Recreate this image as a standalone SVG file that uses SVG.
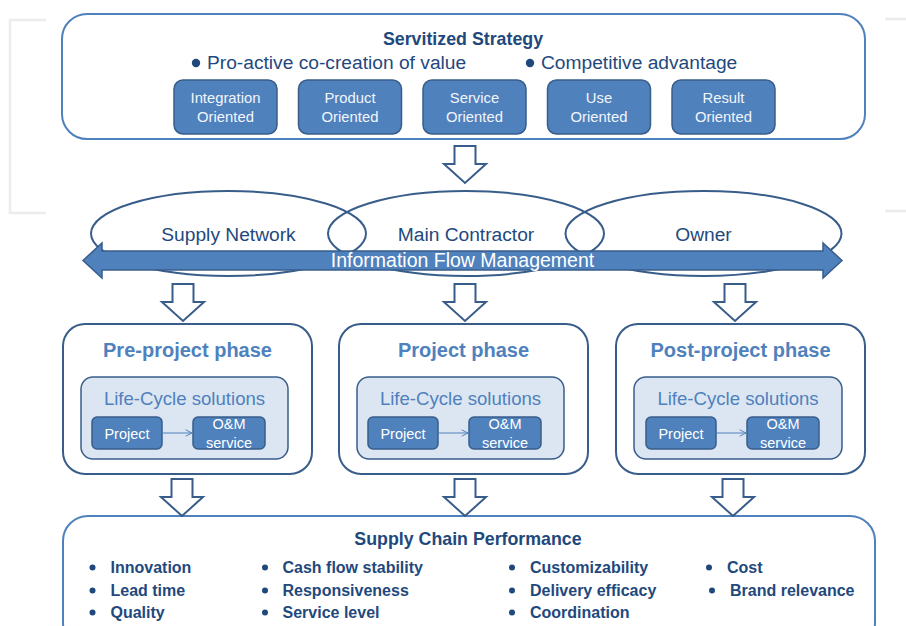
<svg xmlns="http://www.w3.org/2000/svg" width="906" height="626" viewBox="0 0 906 626">
<defs>
<style>
.bg{fill:#ffffff}
.gray{fill:none;stroke:#ececec;stroke-width:2.5}
.outer{fill:#ffffff;stroke:#4f81bd;stroke-width:2}
.phase{fill:#ffffff;stroke:#385d8a;stroke-width:2}
.inner{fill:#dce6f2;stroke:#385d8a;stroke-width:1.5}
.dark{fill:#4f81bd;stroke:#385d8a;stroke-width:1.5}
.ell{fill:none;stroke:#385d8a;stroke-width:2}
.blk{fill:#ffffff;stroke:#385d8a;stroke-width:2;stroke-linejoin:miter}
.band{fill:#4f81bd;stroke:#385d8a;stroke-width:1.5}
.thin{fill:none;stroke:#4f81bd;stroke-width:1}
.t{font-family:"Liberation Sans",Arial,sans-serif}
.title{font-weight:bold;font-size:17.8px;fill:#1f497d;text-anchor:middle}
.bul{font-size:19.2px;fill:#1f497d}
.btn{font-size:14.8px;fill:#f2f6fb;text-anchor:middle}
.ellt{font-size:19.2px;fill:#1f497d;text-anchor:middle}
.flow{font-size:19.5px;fill:#ffffff;text-anchor:middle}
.ph{font-weight:bold;font-size:20px;fill:#4f81bd;text-anchor:middle}
.lc{font-size:18.6px;fill:#4f81bd;text-anchor:middle}
.sm{font-size:14.5px;fill:#ffffff;text-anchor:middle}
.item{font-weight:bold;font-size:16px;fill:#1f497d}
.dot{fill:#1f497d}
</style>
<marker id="ah" viewBox="0 0 10 10" refX="9" refY="5" markerWidth="8" markerHeight="8" markerUnits="userSpaceOnUse" orient="auto">
<path d="M1,1 L9,5 L1,9" fill="none" stroke="#4f81bd" stroke-width="1.2"/>
</marker>
</defs>
<rect class="bg" x="0" y="0" width="906" height="626"/>
<g id="background-marks">
<path class="gray" d="M46,20 H10 V213 H46"/>
<path class="gray" d="M885,19 H906 M885,211 H906"/>
</g>

<g id="servitized-strategy">
<rect class="outer" x="62" y="14" width="803" height="125" rx="25"/>
<text class="t title" x="463" y="45">Servitized Strategy</text>
<circle class="dot" cx="196" cy="63" r="4.2"/>
<text class="t bul" x="207" y="69">Pro-active co-creation of value</text>
<circle class="dot" cx="530" cy="63" r="4.2"/>
<text class="t bul" x="541" y="69">Competitive advantage</text>
</g>
<g id="integration-oriented">
<rect class="dark" x="174" y="80" width="103" height="54" rx="9"/>
<text class="t btn" x="225.5" y="103">Integration</text>
<text class="t btn" x="225.5" y="122">Oriented</text>
</g>
<g id="product-oriented">
<rect class="dark" x="298.5" y="80" width="103" height="54" rx="9"/>
<text class="t btn" x="350" y="103">Product</text>
<text class="t btn" x="350" y="122">Oriented</text>
</g>
<g id="service-oriented">
<rect class="dark" x="423" y="80" width="103" height="54" rx="9"/>
<text class="t btn" x="474.5" y="103">Service</text>
<text class="t btn" x="474.5" y="122">Oriented</text>
</g>
<g id="use-oriented">
<rect class="dark" x="547.5" y="80" width="103" height="54" rx="9"/>
<text class="t btn" x="599" y="103">Use</text>
<text class="t btn" x="599" y="122">Oriented</text>
</g>
<g id="result-oriented">
<rect class="dark" x="672" y="80" width="103" height="54" rx="9"/>
<text class="t btn" x="723.5" y="103">Result</text>
<text class="t btn" x="723.5" y="122">Oriented</text>
</g>

<g id="supply-network">
<ellipse class="ell" cx="228.5" cy="233.5" rx="137.5" ry="42.5"/>
<text class="t ellt" x="228.5" y="241">Supply Network</text>
</g>
<g id="main-contractor">
<ellipse class="ell" cx="466" cy="233.5" rx="138" ry="42.5"/>
<text class="t ellt" x="466" y="241">Main Contractor</text>
</g>
<g id="owner">
<ellipse class="ell" cx="703.5" cy="233.5" rx="138" ry="42.5"/>
<text class="t ellt" x="703.5" y="241">Owner</text>
</g>

<g id="pre-project-phase">
<rect class="phase" x="63" y="324" width="249" height="150" rx="22"/>
<text class="t ph" x="187.5" y="357">Pre-project phase</text>
<rect class="inner" x="81" y="377" width="207" height="82" rx="12"/>
<text class="t lc" x="184.5" y="405">Life-Cycle solutions</text>
<rect class="dark" x="92" y="417" width="70" height="32" rx="5"/>
<text class="t sm" x="127" y="439">Project</text>
<rect class="dark" x="193" y="417" width="72" height="32" rx="5"/>
<text class="t sm" x="229" y="429">O&amp;M</text>
<text class="t sm" x="229" y="447.5">service</text>
</g>
<g id="project-phase">
<rect class="phase" x="339" y="324" width="249" height="150" rx="22"/>
<text class="t ph" x="463.5" y="357">Project phase</text>
<rect class="inner" x="357" y="377" width="207" height="82" rx="12"/>
<text class="t lc" x="460.5" y="405">Life-Cycle solutions</text>
<rect class="dark" x="368" y="417" width="70" height="32" rx="5"/>
<text class="t sm" x="403" y="439">Project</text>
<rect class="dark" x="469" y="417" width="72" height="32" rx="5"/>
<text class="t sm" x="505" y="429">O&amp;M</text>
<text class="t sm" x="505" y="447.5">service</text>
</g>
<g id="post-project-phase">
<rect class="phase" x="616" y="324" width="249" height="150" rx="22"/>
<text class="t ph" x="740.5" y="357">Post-project phase</text>
<rect class="inner" x="634" y="377" width="208" height="82" rx="12"/>
<text class="t lc" x="738" y="405">Life-Cycle solutions</text>
<rect class="dark" x="646" y="417" width="70" height="32" rx="5"/>
<text class="t sm" x="681" y="439">Project</text>
<rect class="dark" x="747" y="417" width="72" height="32" rx="5"/>
<text class="t sm" x="783" y="429">O&amp;M</text>
<text class="t sm" x="783" y="447.5">service</text>
</g>

<g id="supply-chain-performance">
<rect class="outer" x="63" y="516" width="812" height="132" rx="25"/>
<text class="t title" x="468" y="545">Supply Chain Performance</text>
<circle class="dot" cx="92.5" cy="567.5" r="3"/>
<circle class="dot" cx="92.5" cy="590.5" r="3"/>
<circle class="dot" cx="92.5" cy="612.5" r="3"/>
<text class="t item" x="110.5" y="573">Innovation</text>
<text class="t item" x="110.5" y="596">Lead time</text>
<text class="t item" x="110.5" y="618">Quality</text>
<circle class="dot" cx="265" cy="567.5" r="3"/>
<circle class="dot" cx="265" cy="590.5" r="3"/>
<circle class="dot" cx="265" cy="612.5" r="3"/>
<text class="t item" x="282.5" y="573">Cash flow stability</text>
<text class="t item" x="282.5" y="596">Responsiveness</text>
<text class="t item" x="282.5" y="618">Service level</text>
<circle class="dot" cx="512" cy="567.5" r="3"/>
<circle class="dot" cx="512" cy="590.5" r="3"/>
<circle class="dot" cx="512" cy="612.5" r="3"/>
<text class="t item" x="530" y="573">Customizability</text>
<text class="t item" x="530" y="596">Delivery efficacy</text>
<text class="t item" x="530" y="618">Coordination</text>
<circle class="dot" cx="709" cy="567.5" r="3"/>
<circle class="dot" cx="712" cy="590.5" r="3"/>
<text class="t item" x="727" y="573">Cost</text>
<text class="t item" x="730" y="596">Brand relevance</text>
</g>

<g id="connectors">
<path class="blk" d="M454.5,146 H475.5 V164 H486 L465,183 L444,164 H454.5 Z"/>
<path class="band" d="M83,260.5 L102,243 V251 H823 V243 L842,260.5 L823,278 V270 H102 V278 Z"/>
<text class="t flow" x="462.5" y="266.5">Information Flow Management</text>
<path class="blk" d="M172.5,284 H193.5 V302 H204 L183,321 L162,302 H172.5 Z"/>
<path class="blk" d="M454.5,284 H475.5 V302 H486 L465,321 L444,302 H454.5 Z"/>
<path class="blk" d="M724.5,284 H745.5 V302 H756 L735,321 L714,302 H724.5 Z"/>
<path class="blk" d="M171.5,479 H192.5 V497 H203 L182,516 L161,497 H171.5 Z"/>
<path class="blk" d="M454.5,479 H475.5 V497 H486 L465,516 L444,497 H454.5 Z"/>
<path class="blk" d="M722.5,479 H743.5 V497 H754 L733,516 L712,497 H722.5 Z"/>
<line class="thin" x1="162" y1="433" x2="192" y2="433" marker-end="url(#ah)"/>
<line class="thin" x1="438" y1="433" x2="468" y2="433" marker-end="url(#ah)"/>
<line class="thin" x1="716" y1="433" x2="746" y2="433" marker-end="url(#ah)"/>
</g>
</svg>
